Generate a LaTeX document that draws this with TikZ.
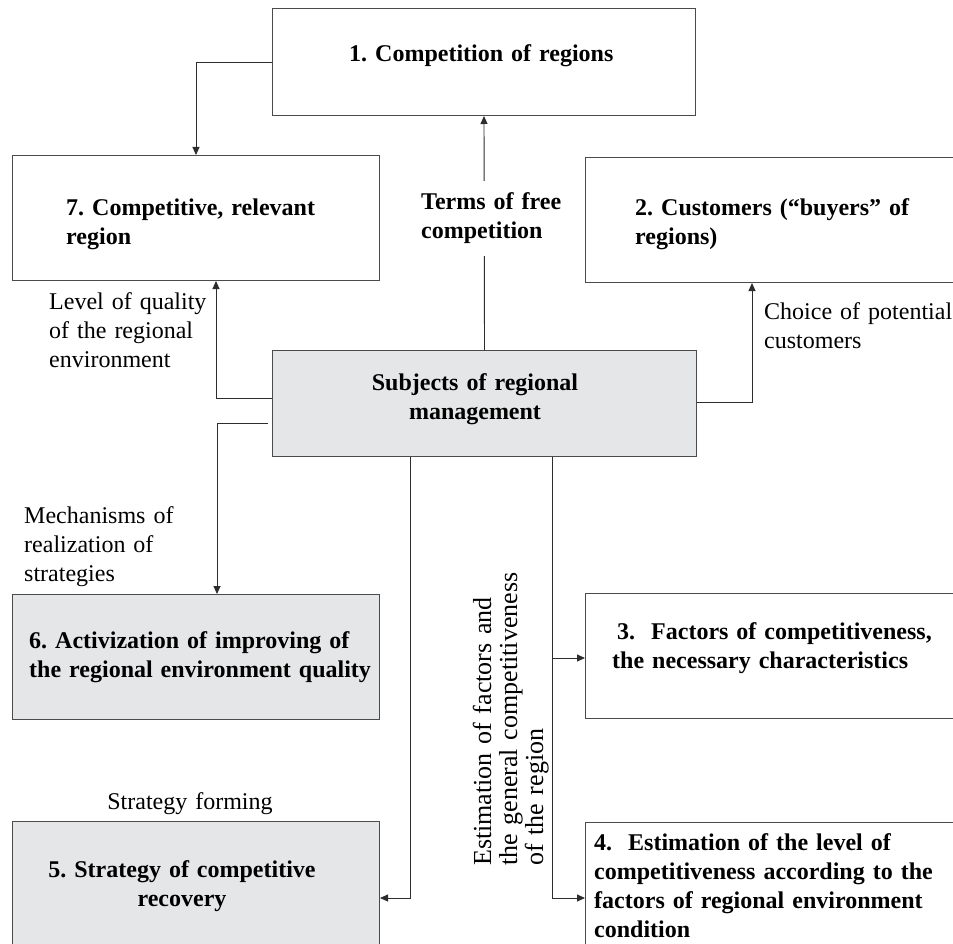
\documentclass[tikz,border=0pt]{standalone}
\usepackage{fontspec}
\setmainfont{Liberation Serif}
\usetikzlibrary{arrows.meta}
\definecolor{boxgray}{RGB}{229,230,231}
\definecolor{linecol}{RGB}{45,45,45}
\definecolor{edgecol}{RGB}{75,75,75}
\frenchspacing

\begin{document}
\begin{tikzpicture}[x=1pt,y=-1pt,
  box/.style={draw=edgecol, line width=1pt, inner sep=0pt, anchor=north west},
  shadedbox/.style={box, fill=boxgray},
  arr/.style={draw=linecol, line width=0.9pt, -{Triangle[length=8pt,width=7pt]}},
  boxtext/.style={font=\fontsize{24}{29}\selectfont\bfseries\frenchspacing, inner sep=0pt, text width=360pt},
  remark/.style={font=\fontsize{24}{29}\selectfont\frenchspacing, inner sep=0pt, text width=260pt},
]
\useasboundingbox (0,0) rectangle (953,944);

% boxes
\node[box, minimum width=423pt, minimum height=107pt] (b1) at (272,8) {};
\node[box, minimum width=367pt, minimum height=125pt] (b7) at (12,155) {};
\node[box, minimum width=367.5pt, minimum height=125pt] (b2) at (585,157) {};
\node[shadedbox, minimum width=424pt, minimum height=106pt] (subj) at (272,350) {};
\node[shadedbox, minimum width=367pt, minimum height=125pt] (b6) at (12,594) {};
\node[box, minimum width=367.5pt, minimum height=125pt] (b3) at (585,593) {};
\node[shadedbox, minimum width=367pt, minimum height=135pt] (b5) at (12,821) {};
\node[box, minimum width=367.5pt, minimum height=135pt] (b4) at (585,822) {};

% connectors
\draw[arr] (b1.west) -| (b7.north);
\draw[arr] (subj.north) -- (b1.south);
\draw[arr] ([yshift=5pt]subj.west) -| (b7.south -| 216,0);
\draw[arr] ([yshift=1pt]subj.east) -| (b2.south -| 752,0);
\draw[arr] ([xshift=-4pt,yshift=-20pt]subj.west) -| (b6.north -| 217,0);
\draw[arr] (subj.south -| 410,0) |- (b5.east |- 0,898);
\draw[arr] (subj.south -| 552,0) |- (b4.west |- 0,898);
\coordinate (j3) at (552,658);
\draw[arr] (j3) -- (b3.west |- j3);

% box captions
\node[boxtext, anchor=base west, align=left] (t1) at (349,62) {1. Competition of regions};
\node[boxtext, anchor=base west, align=left] (t7) at (66,215) {7. Competitive, relevant\\region};
\node[boxtext, anchor=base west, align=left] (t2) at (635,215) {2. Customers (“buyers” of\\regions)};
\node[boxtext, anchor=base, align=center] (ts) at (475,390) {Subjects of regional\\management};
\node[boxtext, anchor=base west, align=left] (t6) at (29,648) {6. Activization of improving of\\the regional environment quality};
\node[boxtext, anchor=base, align=center] (t5) at (182,877) {5. Strategy of competitive\\recovery};
\node[boxtext, anchor=base west, align=left] (t3) at (612,639) {\hspace*{5pt}3.\ \ Factors of competitiveness,\\the necessary characteristics};
\node[boxtext, anchor=base west, align=left] (t4) at (594,850) {4.\ \ Estimation of the level of\\competitiveness according to the\\factors of regional environment\\condition};

% connector labels
\node[boxtext, anchor=base west, align=left, fill=white, inner ysep=12pt, text width=140pt] (tf) at (421,210) {Terms of free\\competition};
\node[remark, anchor=base west, align=left] (lq) at (49,309) {Level of quality\\of the regional\\environment};
\node[remark, anchor=base west, align=left] (cp) at (764,319) {Choice of potential\\customers};
\node[remark, anchor=base west, align=left] (mr) at (24,523) {Mechanisms of\\realization of\\strategies};
\node[remark, anchor=base, align=center] (sf) at (190,809) {Strategy forming};
\node[remark, rotate=90, anchor=base west, align=left, font=\fontsize{26}{26}\selectfont, text width=320pt] (est) at (491,866) {Estimation of factors and\\the general competitiveness\\of the region};
\end{tikzpicture}
\end{document}
